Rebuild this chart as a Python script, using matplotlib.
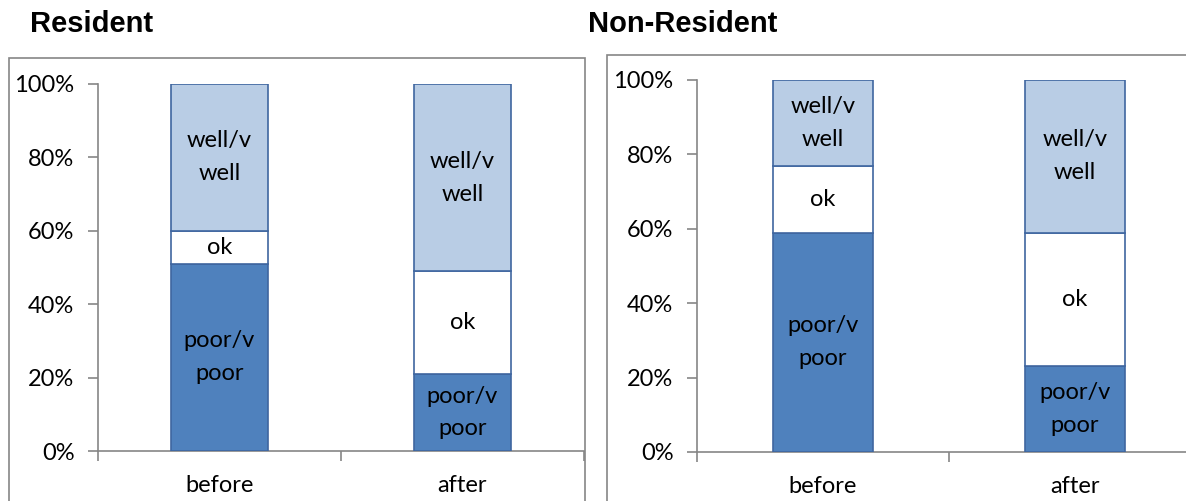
import numpy as np
import matplotlib.pyplot as plt
from matplotlib.patches import Rectangle

# data (shares)
periods = ["before", "after"]
levels = ["poor/v\npoor", "ok", "well/v\nwell"]
resident = {"poor": [0.51, 0.21], "ok": [0.09, 0.28], "well": [0.40, 0.51]}
non_resident = {"poor": [0.59, 0.23], "ok": [0.18, 0.36], "well": [0.23, 0.41]}

colors = ["#4F81BD", "#FFFFFF", "#B9CDE5"]
edge = "#3F66A0"
grey = "#868686"
font = "Lato"
fs = 17


def draw_panel(ax, data):
    x = np.arange(len(periods))
    bottom = np.zeros(len(periods))
    for key, lab, col in zip(["poor", "ok", "well"], levels, colors):
        vals = np.array(data[key])
        ax.bar(x, vals, 0.4, bottom=bottom, color=col, edgecolor=edge, linewidth=1.2, zorder=3)
        for xi, b, v in zip(x, bottom, vals):
            ax.text(xi, b + v / 2, lab, ha="center", va="center", fontsize=fs,
                    family=font, linespacing=1.7, zorder=4)
        bottom += vals

    ax.set_xlim(-0.5, 1.5)
    ax.set_ylim(0, 1)
    ax.set_yticks(np.linspace(0, 1, 6))
    ax.set_yticklabels([f"{int(v)}%" for v in np.linspace(0, 100, 6)], family=font, fontsize=fs)
    ax.set_xticks(x)
    ax.set_xticklabels(periods, family=font, fontsize=fs)
    ax.set_xticks([-0.5, 0.5, 1.5], minor=True)
    ax.tick_params(axis="x", which="major", length=0, pad=17)
    ax.tick_params(axis="x", which="minor", length=7, color=grey, width=1.2, direction="out")
    ax.tick_params(axis="y", length=7, color=grey, width=1.2, pad=10)
    for s in ["top", "right"]:
        ax.spines[s].set_visible(False)
    for s in ["left", "bottom"]:
        ax.spines[s].set_color(grey)
        ax.spines[s].set_linewidth(1.2)
    ax.patch.set_alpha(0)


fig = plt.figure(figsize=(11.86, 5.01), dpi=100)

# panel frames
fig.patches.append(Rectangle((9 / 1186, -0.1), 576 / 1186, 1.1 - 58 / 501, transform=fig.transFigure,
                             fill=False, edgecolor=grey, linewidth=1.2))
fig.patches.append(Rectangle((607 / 1186, -0.1), 600 / 1186, 1.1 - 55 / 501, transform=fig.transFigure,
                             fill=False, edgecolor=grey, linewidth=1.2))

ax1 = fig.add_axes([98 / 1186, 50 / 501, 486 / 1186, 367 / 501])
ax2 = fig.add_axes([697 / 1186, 49 / 501, 504 / 1186, 372 / 501])
draw_panel(ax1, resident)
draw_panel(ax2, non_resident)

fig.text(30 / 1186, 1 - 24 / 501, "Resident", fontsize=21, fontweight="bold",
         family="Liberation Sans", va="center", ha="left")
fig.text(588 / 1186, 1 - 24 / 501, "Non-Resident", fontsize=21, fontweight="bold",
         family="Liberation Sans", va="center", ha="left")

fig.savefig("out.png", dpi=100)
